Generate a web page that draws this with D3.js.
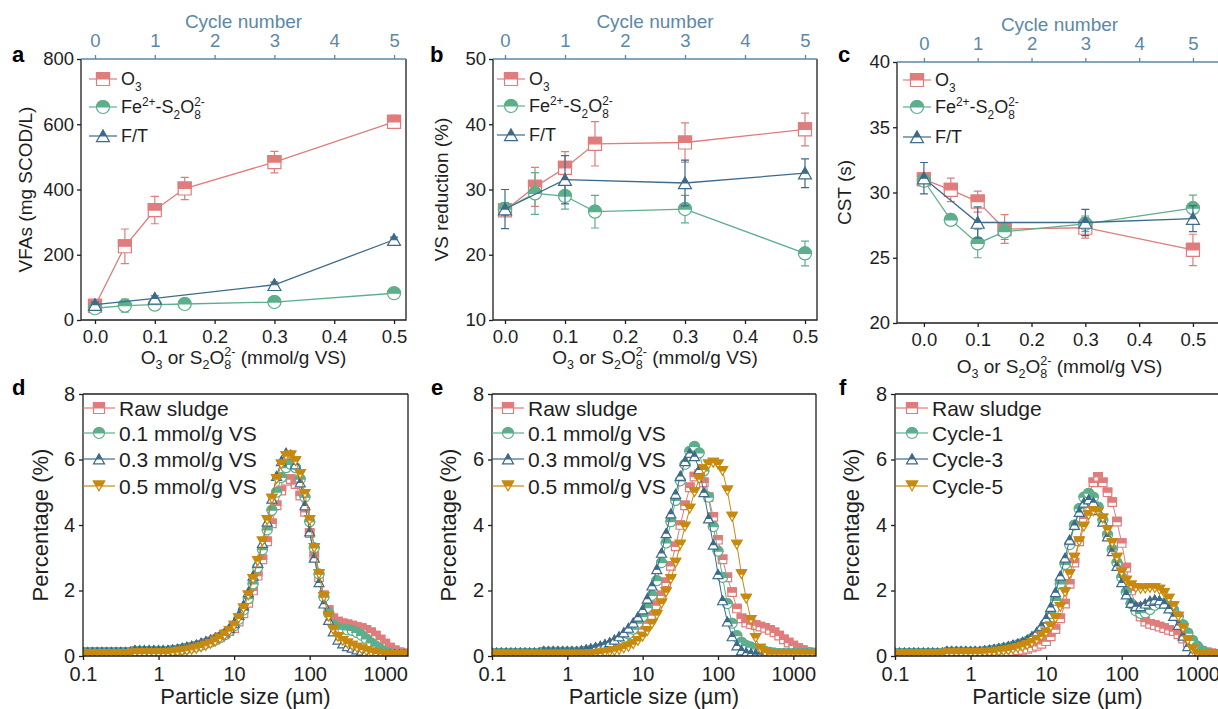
<!DOCTYPE html>
<html>
<head>
<meta charset="utf-8">
<title>Sludge pretreatment figure</title>
<script src="https://cdn.jsdelivr.net/npm/d3@7"></script>
<style>
  body { margin: 0; background: #fff; }
  svg text { font-family: "Liberation Sans", Arial, Helvetica, sans-serif; }
</style>
</head>
<body>
<svg id="fig" width="1218" height="709"></svg>
<script>
// ---- data: panels a-c (dose in mmol/g VS; F/T plotted on cycle axis, cycle = dose*10) ----
var doseX  = [0, 0.05, 0.1, 0.15, 0.3, 0.5];
var cycleX = [0, 0.1, 0.3, 0.5];            // cycles 0, 1, 3, 5
var doseTicks  = [0, 0.1, 0.2, 0.3, 0.4, 0.5];
var cycleTicks = [0, 1, 2, 3, 4, 5];

var vfaO3 = [43, 226, 337, 403, 484, 607],   vfaO3Err = [8, 53, 42, 34, 33, 20];
var vfaFe = [36, 44, 47, 49, 55, 82],        vfaFeErr = [8, 20, 10, 8, 10, 8];
var vfaFT = [47, 66, 108, 246],              vfaFTErr = [8, 8, 8, 8];

var vsO3 = [26.8, 30.4, 33.3, 37.0, 37.2, 39.2], vsO3Err = [0.5, 3.0, 2.5, 3.4, 3.0, 2.5];
var vsFe = [27.0, 29.4, 29.0, 26.6, 27.0, 20.2], vsFeErr = [1.0, 3.2, 2.0, 2.5, 2.1, 1.9];
var vsFT = [27.0, 31.5, 31.0, 32.5],             vsFTErr = [3.0, 3.7, 3.5, 2.2];

var cstO3 = [31.0, 30.2, 29.3, 27.2, 27.3, 25.6], cstO3Err = [0.4, 0.9, 0.8, 1.1, 0.8, 1.2];
var cstFe = [30.9, 27.9, 26.1, 27.0, 27.6, 28.8], cstFeErr = [0.4, 0.4, 1.1, 0.6, 0.6, 1.0];
var cstFT = [31.1, 27.7, 27.7, 28.0],             cstFTErr = [1.2, 1.2, 1.0, 1.0];

// ---- data: panels d-f particle size distributions (%), size grid in µm ----
var sizes = [0.1, 0.115, 0.133, 0.154, 0.178, 0.205, 0.237, 0.274, 0.316, 0.365, 0.422, 0.487, 0.562, 0.649, 0.75, 0.866,
  1, 1.15, 1.33, 1.54, 1.78, 2.05, 2.37, 2.74, 3.16, 3.65, 4.22, 4.87, 5.62, 6.49, 7.5, 8.66,
  10, 11.5, 13.3, 15.4, 17.8, 20.5, 23.7, 27.4, 31.6, 36.5, 42.2, 48.7, 56.2, 64.9, 75, 86.6,
  100, 115, 133, 154, 178, 205, 237, 274, 316, 365, 422, 487, 562, 649, 750, 866,
  1000, 1155, 1334, 1540, 1778];
var sizeTicks = [0.1, 1, 10, 100, 1000];
var pctTicks = [0, 2, 4, 6, 8];

var dRaw = [0.1, 0.1, 0.1, 0.1, 0.1, 0.1, 0.1, 0.1, 0.1, 0.1, 0.1, 0.15, 0.15, 0.15, 0.15, 0.15, 0.15, 0.15, 0.15,
  0.17, 0.19, 0.21, 0.24, 0.27, 0.3, 0.34, 0.39, 0.44, 0.5, 0.57, 0.66, 0.76,
  0.85, 1.05, 1.3, 1.62, 2.0, 2.45, 2.95, 3.5, 4.05, 4.6, 5.05, 5.35, 5.4, 5.25, 4.9, 4.4,
  3.75, 3.05, 2.4, 1.85, 1.4, 1.15, 1.05, 1.0, 0.97, 0.93, 0.88, 0.85, 0.8, 0.72, 0.62, 0.5, 0.38, 0.26, 0.17, 0.11, 0.08];
var d01 = [0.1, 0.1, 0.1, 0.1, 0.1, 0.1, 0.1, 0.1, 0.1, 0.1, 0.1, 0.14, 0.14, 0.14, 0.14, 0.14, 0.14, 0.14, 0.14,
  0.16, 0.18, 0.2, 0.23, 0.26, 0.29, 0.33, 0.38, 0.43, 0.49, 0.56, 0.65, 0.77,
  0.92, 1.12, 1.4, 1.75, 2.2, 2.7, 3.25, 3.85, 4.45, 5.0, 5.45, 5.75, 5.85, 5.75, 5.4, 4.85,
  4.1, 3.3, 2.5, 1.8, 1.3, 0.95, 0.85, 0.82, 0.8, 0.78, 0.72, 0.63, 0.52, 0.4, 0.3, 0.2, 0.12, 0.08, 0.05, 0.05, 0.05];
var d03 = [0.12, 0.12, 0.12, 0.12, 0.12, 0.12, 0.12, 0.12, 0.12, 0.12, 0.12, 0.18, 0.18, 0.18, 0.18, 0.18, 0.18, 0.18, 0.18,
  0.2, 0.22, 0.25, 0.28, 0.31, 0.35, 0.4, 0.45, 0.5, 0.56, 0.63, 0.72, 0.85,
  1.0, 1.25, 1.55, 1.95, 2.45, 2.85, 3.45, 4.1, 4.8, 5.5, 5.95, 6.2, 6.15, 5.85, 5.3, 4.6,
  3.8, 3.0, 2.25, 1.6, 1.1, 0.75, 0.5, 0.38, 0.3, 0.25, 0.2, 0.16, 0.13, 0.1, 0.08, 0.07, 0.06, 0.05, 0.05, 0.05, 0.05];
var d05 = [0.05, 0.05, 0.05, 0.05, 0.05, 0.05, 0.05, 0.05, 0.05, 0.05, 0.05, 0.08, 0.08, 0.08, 0.08, 0.08, 0.08, 0.08, 0.08,
  0.1, 0.12, 0.14, 0.16, 0.19, 0.22, 0.26, 0.31, 0.37, 0.44, 0.53, 0.63, 0.76,
  0.92, 1.15, 1.45, 1.85, 2.35, 2.9, 3.5, 4.15, 4.8, 5.4, 5.85, 6.1, 6.12, 5.95, 5.55, 4.95,
  4.15, 3.3, 2.5, 1.8, 1.2, 0.8, 0.58, 0.46, 0.38, 0.31, 0.25, 0.2, 0.15, 0.11, 0.08, 0.06, 0.04, 0.03, 0.03, 0.03, 0.03];

var eRaw = [0.08, 0.08, 0.08, 0.08, 0.08, 0.08, 0.08, 0.08, 0.08, 0.08, 0.08, 0.12, 0.12, 0.12, 0.12, 0.12, 0.12, 0.12, 0.12,
  0.13, 0.14, 0.16, 0.18, 0.2, 0.23, 0.26, 0.3, 0.35, 0.41, 0.48, 0.57, 0.68,
  0.82, 1.0, 1.25, 1.55, 1.85, 2.25, 2.75, 3.35, 4.0, 4.6, 5.15, 5.48, 5.55, 5.3, 4.85, 4.25,
  3.55, 2.95, 2.4, 1.95, 1.45, 1.15, 1.02, 0.97, 0.94, 0.9, 0.86, 0.8, 0.72, 0.62, 0.51, 0.41, 0.32, 0.24, 0.18, 0.13, 0.1];
var e01 = [0.08, 0.08, 0.08, 0.08, 0.08, 0.08, 0.08, 0.08, 0.08, 0.08, 0.08, 0.12, 0.12, 0.12, 0.12, 0.12, 0.12, 0.12, 0.12,
  0.13, 0.15, 0.17, 0.2, 0.23, 0.27, 0.32, 0.38, 0.46, 0.56, 0.68, 0.82, 1.0,
  1.2, 1.48, 1.85, 2.3, 2.85, 3.45, 4.1, 4.75, 5.35, 5.85, 6.25, 6.4, 6.2, 5.65, 4.85, 3.95,
  3.2, 2.4, 1.6, 1.0, 0.62, 0.42, 0.32, 0.27, 0.22, 0.18, 0.14, 0.11, 0.09, 0.07, 0.07, 0.07, 0.07, 0.07, 0.07, 0.07, 0.07];
var e03 = [0.1, 0.1, 0.1, 0.1, 0.1, 0.1, 0.1, 0.1, 0.1, 0.1, 0.1, 0.15, 0.15, 0.15, 0.15, 0.15, 0.15, 0.15, 0.15,
  0.17, 0.2, 0.23, 0.27, 0.31, 0.36, 0.42, 0.5, 0.6, 0.72, 0.86, 1.02, 1.2,
  1.42, 1.75, 2.15, 2.65, 3.15, 3.75, 4.35, 4.95, 5.5, 5.95, 6.2, 6.1, 5.7, 5.0, 4.2, 3.4,
  2.5, 1.7, 1.05, 0.6, 0.32, 0.17, 0.1, 0.08, 0.06, 0.06, 0.06, 0.06, 0.06, 0.06, 0.06, 0.06, 0.06, 0.06, 0.06, 0.06, 0.06];
var e05 = [0.04, 0.04, 0.04, 0.04, 0.04, 0.04, 0.04, 0.04, 0.04, 0.04, 0.04, 0.04, 0.04, 0.04, 0.04, 0.04, 0.04, 0.04, 0.04, 0.04,
  0.04, 0.05, 0.06, 0.08, 0.1, 0.12, 0.15, 0.18, 0.23, 0.28, 0.36, 0.46,
  0.59, 0.76, 0.98, 1.25, 1.6, 1.95, 2.35, 2.85, 3.4, 3.95, 4.5, 5.0, 5.4, 5.7, 5.85, 5.9,
  5.85, 5.65, 5.05, 4.25, 3.4, 2.5, 1.75, 1.1, 0.55, 0.22, 0.1, 0.06, 0.06, 0.06, 0.06, 0.06, 0.06, 0.06, 0.06, 0.06, 0.06];

var fRaw = [0.05, 0.05, 0.05, 0.05, 0.05, 0.05, 0.05, 0.05, 0.05, 0.05, 0.05, 0.08, 0.08, 0.08, 0.08, 0.08, 0.08, 0.08, 0.08,
  0.08, 0.09, 0.1, 0.11, 0.12, 0.13, 0.15, 0.17, 0.19, 0.22, 0.26, 0.31, 0.37,
  0.45, 0.6, 0.82, 1.15, 1.6, 2.2, 2.85, 3.5, 4.2, 4.85, 5.3, 5.47, 5.3, 5.0, 4.7, 4.1,
  3.45, 2.7, 2.0, 1.5, 1.2, 1.05, 0.98, 0.94, 0.9, 0.85, 0.8, 0.76, 0.66, 0.53, 0.4, 0.3, 0.21, 0.15, 0.11, 0.08, 0.06];
var fC1 = [0.08, 0.08, 0.08, 0.08, 0.08, 0.08, 0.08, 0.08, 0.08, 0.08, 0.08, 0.12, 0.12, 0.12, 0.12, 0.12, 0.12, 0.12, 0.12,
  0.14, 0.16, 0.18, 0.2, 0.23, 0.26, 0.3, 0.34, 0.39, 0.45, 0.53, 0.63, 0.78,
  1.0, 1.3, 1.7, 2.2, 2.8, 3.4, 4.0, 4.5, 4.85, 4.97, 4.85, 4.55, 4.15, 3.7, 3.25, 2.85,
  2.4, 1.95, 1.6, 1.38, 1.3, 1.32, 1.42, 1.55, 1.6, 1.6, 1.55, 1.4, 1.2, 0.95, 0.7, 0.48, 0.3, 0.16, 0.08, 0.05, 0.04];
var fC3 = [0.1, 0.1, 0.1, 0.1, 0.1, 0.1, 0.1, 0.1, 0.1, 0.1, 0.1, 0.15, 0.15, 0.15, 0.15, 0.15, 0.15, 0.15, 0.15,
  0.17, 0.19, 0.21, 0.24, 0.27, 0.3, 0.34, 0.38, 0.43, 0.5, 0.6, 0.73, 0.92,
  1.15, 1.5, 1.95, 2.45, 3.0, 3.55, 4.0, 4.4, 4.68, 4.78, 4.7, 4.45, 4.1, 3.65, 3.2, 2.75,
  2.25, 1.88, 1.62, 1.52, 1.52, 1.6, 1.68, 1.72, 1.7, 1.6, 1.45, 1.22, 0.95, 0.62, 0.3, 0.1, 0.04, 0.03, 0.03, 0.03, 0.03];
var fC5 = [0.05, 0.05, 0.05, 0.05, 0.05, 0.05, 0.05, 0.05, 0.05, 0.05, 0.05, 0.08, 0.08, 0.08, 0.08, 0.08, 0.08, 0.08, 0.08,
  0.09, 0.1, 0.11, 0.13, 0.15, 0.17, 0.2, 0.24, 0.28, 0.33, 0.4, 0.49, 0.6,
  0.72, 0.9, 1.15, 1.5, 1.95, 2.5, 3.0, 3.5, 3.95, 4.3, 4.42, 4.4, 4.2, 3.85, 3.45, 3.0,
  2.55, 2.3, 2.15, 2.08, 2.05, 2.06, 2.08, 2.07, 2.02, 1.92, 1.75, 1.52, 1.2, 0.85, 0.48, 0.2, 0.06, 0.03, 0.03, 0.03, 0.03];

// ---- styling ----
var INK = "#1e1e1e";
var TOP_BLUE = "#5b88a6";
var RED = "#e07c7c", GREEN = "#5daf8c", BLUE = "#3e6a8b", ORANGE = "#c8890f";

var svg = d3.select("#fig");

// labels with sub/superscripts: kind "sub", "sup", or "over" (sup stacked above previous sub)
function rich(t, parts, fs) {
  var cur = 0, prev = null;
  parts.forEach(function(p) {
    var kind = p[1] || "n";
    var off = kind === "sub" ? 0.28 * fs : (kind === "sup" || kind === "over") ? -0.42 * fs : 0;
    var ts = t.append("tspan").text(p[0]).attr("dy", off - cur);
    if (kind !== "n") ts.attr("font-size", fs * 0.66);
    if (kind === "over" && prev) ts.attr("dx", -prev.node().getComputedTextLength());
    cur = off; prev = ts;
  });
}
var lblO3 = [["O"], ["3", "sub"]];
var lblFe = [["Fe"], ["2+", "sup"], ["-S"], ["2", "sub"], ["O"], ["8", "sub"], ["2-", "over"]];
var lblFT = [["F/T"]];
var lblDose = [["O"], ["3", "sub"], [" or S"], ["2", "sub"], ["O"], ["8", "sub"], ["2-", "over"], [" (mmol/g VS)"]];

function shapePaths(shape, s) {
  var h = s / 2, t2 = s * 0.44;
  if (shape === "square") return { full: "M" + -h + "," + -h + "H" + h + "V" + h + "H" + -h + "Z",
                                   top: "M" + -h + "," + -h + "H" + h + "V0H" + -h + "Z" };
  if (shape === "circle") return { full: "M" + -h + ",0A" + h + "," + h + " 0 1,1 " + h + ",0A" + h + "," + h + " 0 1,1 " + -h + ",0Z",
                                   top: "M" + -h + ",0A" + h + "," + h + " 0 0,1 " + h + ",0Z" };
  if (shape === "up") return { full: "M0," + -t2 + "L" + h + "," + t2 + "L" + -h + "," + t2 + "Z",
                               top: "M0," + -t2 + "L" + h / 2 + ",0L" + -h / 2 + ",0Z" };
  return { full: "M" + -h + "," + -t2 + "L" + h + "," + -t2 + "L0," + t2 + "Z",
           top: "M" + -h + "," + -t2 + "L" + h + "," + -t2 + "L" + h / 2 + ",0L" + -h / 2 + ",0Z" };
}

function marker(g, shape, s, color, cx, cy) {
  var p = shapePaths(shape, s);
  var m = g.append("g").attr("transform", "translate(" + cx + "," + cy + ")");
  m.append("path").attr("d", p.full).attr("fill", "#fff").attr("stroke", color).attr("stroke-width", 1.2);
  m.append("path").attr("d", p.top).attr("fill", color).attr("stroke", color).attr("stroke-width", 1.2);
}

function styleAxis(a, fs, color) {
  a.select(".domain").remove();
  a.selectAll("line").attr("stroke", color).attr("stroke-width", 1.3);
  a.selectAll("text").style("fill", color).style("font-size", fs + "px");
}

function frame(g, c, topColor) {
  g.append("path").attr("d", "M" + c.l + "," + c.t + "V" + c.b + "H" + c.r + "V" + c.t)
    .attr("fill", "none").attr("stroke", INK).attr("stroke-width", 1.3);
  g.append("line").attr("x1", c.l).attr("x2", c.r).attr("y1", c.t).attr("y2", c.t)
    .attr("stroke", topColor).attr("stroke-width", 1.3);
}

function yTitle(x, y, txt, fs) {
  svg.append("text").attr("transform", "translate(" + x + "," + y + ") rotate(-90)")
    .attr("text-anchor", "middle").style("font-size", fs + "px").style("fill", INK).text(txt);
}
function letter(x, y, txt) {
  svg.append("text").attr("x", x).attr("y", y).style("font-size", "22px").style("font-weight", "bold")
    .style("fill", "#000").text(txt);
}

function legend(g, items, x0, y0s, s, fs, lineLen) {
  items.forEach(function(it, i) {
    var y = y0s[i];
    g.append("line").attr("x1", x0).attr("x2", x0 + lineLen).attr("y1", y).attr("y2", y)
      .attr("stroke", it.color).attr("stroke-width", 1.2);
    marker(g, it.shape, s, it.color, x0 + lineLen / 2, y);
    var t = g.append("text").attr("x", x0 + lineLen + 4).attr("y", y + 0.36 * fs)
      .style("font-size", fs + "px").style("fill", INK);
    rich(t, it.label, fs);
  });
}

// ---- panels a-c ----
function dosePanel(c) {
  var x = d3.scaleLinear().domain(c.xdom).range([c.l, c.r]);
  var y = d3.scaleLinear().domain(c.ydom).range([c.b, c.t]);
  var xc = d3.scaleLinear().domain([c.xdom[0] * 10, c.xdom[1] * 10]).range([c.l, c.r]);
  var g = svg.append("g");

  styleAxis(g.append("g").attr("transform", "translate(0," + c.b + ")")
    .call(d3.axisBottom(x).tickValues(doseTicks).tickFormat(d3.format(".1f")).tickSize(4).tickPadding(6)), 18.5, INK);
  styleAxis(g.append("g").attr("transform", "translate(" + c.l + ",0)")
    .call(d3.axisLeft(y).tickValues(c.yticks).tickFormat(d3.format("d")).tickSize(4).tickPadding(3)), 18.5, INK);
  styleAxis(g.append("g").attr("transform", "translate(0," + c.t + ")")
    .call(d3.axisTop(xc).tickValues(cycleTicks).tickFormat(d3.format("d")).tickSize(4).tickPadding(8)), 18.5, TOP_BLUE);
  frame(g, c, TOP_BLUE);

  var mid = (c.l + c.r) / 2;
  g.append("text").attr("x", mid).attr("y", c.t - 31).attr("text-anchor", "middle")
    .style("font-size", "19px").style("fill", TOP_BLUE).text("Cycle number");
  var xt = g.append("text").attr("x", mid).attr("y", c.xtitleY).attr("text-anchor", "middle")
    .style("font-size", "19px").style("fill", INK);
  rich(xt, lblDose, 19);
  yTitle(c.ytx, (c.t + c.b) / 2, c.ytitle, 19);

  c.series.forEach(function(s) {
    var pts = s.x.map(function(xv, i) { return { x: xv, v: s.v[i], e: s.e[i] }; });
    g.append("path").datum(pts)
      .attr("d", d3.line().x(function(d) { return x(d.x); }).y(function(d) { return y(d.v); }))
      .attr("fill", "none").attr("stroke", s.color).attr("stroke-width", 1.3);
    pts.forEach(function(d) {
      var px = x(d.x), y1 = y(d.v - d.e), y2 = y(d.v + d.e);
      g.append("path").attr("d", "M" + px + "," + y1 + "V" + y2 + "M" + (px - 4) + "," + y1 + "H" + (px + 4) + "M" + (px - 4) + "," + y2 + "H" + (px + 4))
        .attr("fill", "none").attr("stroke", s.color).attr("stroke-width", 1.2);
    });
    pts.forEach(function(d) { marker(g, s.shape, 13, s.color, x(d.x), y(d.v)); });
  });

  legend(g, [
    { label: lblO3, shape: "square", color: RED },
    { label: lblFe, shape: "circle", color: GREEN },
    { label: lblFT, shape: "up", color: BLUE }
  ], c.l + c.legX, c.legY.map(function(o) { return c.t + o; }), 13, 18, 28);
}

dosePanel({ l: 81, r: 406, t: 59, b: 320, xdom: [-0.0234, 0.52], ydom: [0, 800], yticks: [0, 200, 400, 600, 800],
  ytitle: "VFAs (mg SCOD/L)", ytx: 32, xtitleY: 364, legX: 8, legY: [20, 48, 77],
  series: [
    { x: doseX, v: vfaO3, e: vfaO3Err, color: RED, shape: "square" },
    { x: doseX, v: vfaFe, e: vfaFeErr, color: GREEN, shape: "circle" },
    { x: cycleX, v: vfaFT, e: vfaFTErr, color: BLUE, shape: "up" }
  ] });
dosePanel({ l: 493, r: 817, t: 59, b: 320, xdom: [-0.02, 0.52], ydom: [10, 50], yticks: [10, 20, 30, 40, 50],
  ytitle: "VS reduction (%)", ytx: 448, xtitleY: 364, legX: 4, legY: [20, 47, 76],
  series: [
    { x: doseX, v: vsO3, e: vsO3Err, color: RED, shape: "square" },
    { x: doseX, v: vsFe, e: vsFeErr, color: GREEN, shape: "circle" },
    { x: cycleX, v: vsFT, e: vsFTErr, color: BLUE, shape: "up" }
  ] });
dosePanel({ l: 897, r: 1222, t: 62, b: 323, xdom: [-0.05, 0.554], ydom: [20, 40], yticks: [20, 25, 30, 35, 40],
  ytitle: "CST (s)", ytx: 851, xtitleY: 373, legX: 6, legY: [18, 45, 75],
  series: [
    { x: doseX, v: cstO3, e: cstO3Err, color: RED, shape: "square" },
    { x: doseX, v: cstFe, e: cstFeErr, color: GREEN, shape: "circle" },
    { x: cycleX, v: cstFT, e: cstFTErr, color: BLUE, shape: "up" }
  ] });

// ---- panels d-f ----
var psdShapes = ["square", "circle", "up", "down"];
var psdColors = [RED, GREEN, BLUE, ORANGE];

function psdPanel(c, id) {
  var x = d3.scaleLog().domain([0.1, 2000]).range([c.l, c.r]);
  var y = d3.scaleLinear().domain([0, 8]).range([c.b, c.t]);
  var g = svg.append("g");
  svg.append("clipPath").attr("id", id).append("rect")
    .attr("x", c.l).attr("y", c.t - 8).attr("width", c.r - c.l).attr("height", c.b - c.t + 8);

  styleAxis(g.append("g").attr("transform", "translate(0," + c.b + ")")
    .call(d3.axisBottom(x).tickValues(sizeTicks).tickFormat(function(d) { return String(d); }).tickSize(4).tickPadding(7)), 20, INK);
  styleAxis(g.append("g").attr("transform", "translate(" + c.l + ",0)")
    .call(d3.axisLeft(y).tickValues(pctTicks).tickFormat(d3.format("d")).tickSize(4).tickPadding(4)), 20, INK);

  var plot = g.append("g").attr("clip-path", "url(#" + id + ")");
  c.series.forEach(function(vals, k) {
    var pts = sizes.map(function(s, i) { return { s: s, v: vals[i] }; });
    plot.append("path").datum(pts)
      .attr("d", d3.line().x(function(d) { return x(d.s); }).y(function(d) { return y(d.v); }))
      .attr("fill", "none").attr("stroke", psdColors[k]).attr("stroke-width", 1);
    pts.forEach(function(d) { marker(plot, psdShapes[k], psdShapes[k] === "square" ? 8.5 : 10, psdColors[k], x(d.s), y(d.v)); });
  });
  frame(g, c, INK);

  g.append("text").attr("x", (c.l + c.r) / 2).attr("y", 704).attr("text-anchor", "middle")
    .style("font-size", "22px").style("fill", INK).text("Particle size (\u00b5m)");
  yTitle(c.ytx, (c.t + c.b) / 2, "Percentage (%)", 22);

  legend(g, c.labels.map(function(l, k) { return { label: [[l]], shape: psdShapes[k], color: psdColors[k] }; }),
    c.l + c.legX, [14, 39, 65, 92].map(function(o) { return c.t + o; }), 11, 21, 32);
}

var doseLabels = ["Raw sludge", "0.1 mmol/g VS", "0.3 mmol/g VS", "0.5 mmol/g VS"];
var cycleLabels = ["Raw sludge", "Cycle-1", "Cycle-3", "Cycle-5"];

psdPanel({ l: 83, r: 408, t: 394, b: 656, ytx: 48, legX: 0, labels: doseLabels, series: [dRaw, d01, d03, d05] }, "clipD");
psdPanel({ l: 492, r: 816, t: 394, b: 656, ytx: 456, legX: 0, labels: doseLabels, series: [eRaw, e01, e03, e05] }, "clipE");
psdPanel({ l: 895, r: 1220, t: 394, b: 656, ytx: 859, legX: 1, labels: cycleLabels, series: [fRaw, fC1, fC3, fC5] }, "clipF");

// panel letters
letter(12, 62, "a"); letter(430, 62, "b"); letter(838, 62, "c");
letter(12, 395, "d"); letter(431, 395, "e"); letter(839, 395, "f");
</script>
</body>
</html>
